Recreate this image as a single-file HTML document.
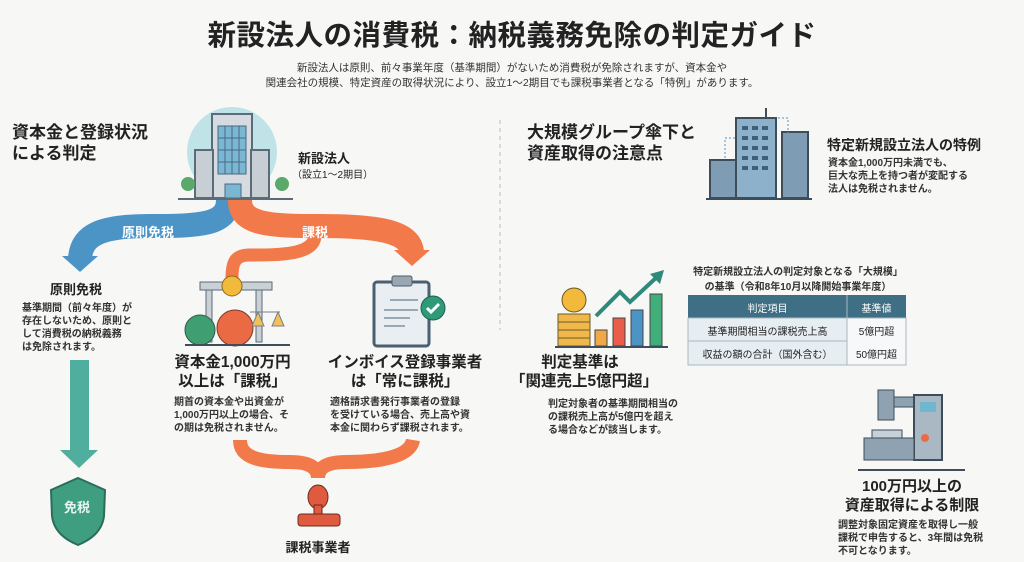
<!DOCTYPE html>
<html><head><meta charset="utf-8"><style>
body{margin:0;width:1024px;height:562px;background:#f7f7f6;font-family:"Liberation Sans","Noto Sans CJK JP",sans-serif;color:#222;position:relative;overflow:hidden}
.a{position:absolute;white-space:nowrap}
.b{font-weight:bold}
.s{font-size:10px;line-height:13px;font-weight:bold;color:#333}
.c{text-align:center}
</style></head><body>
<div class="a b c" style="left:0;width:1024px;top:13px;font-size:28.5px;letter-spacing:0.5px">新設法人の消費税：納税義務免除の判定ガイド</div>
<div class="a c" style="left:0;width:1024px;top:61px;font-size:10.5px;line-height:15px;color:#333">新設法人は原則、前々事業年度（基準期間）がないため消費税が免除されますが、資本金や<br>関連会社の規模、特定資産の取得状況により、設立1〜2期目でも課税事業者となる「特例」があります。</div>

<svg class="a" style="left:0;top:0" width="1024" height="562">
<line x1="500" y1="120" x2="500" y2="330" stroke="#bbb" stroke-dasharray="4,4"/>
<circle cx="232" cy="152" r="45" fill="#bfe3e6"/>
<rect x="212" y="114" width="40" height="84" fill="#d5dbe0" stroke="#5b6b78" stroke-width="2"/>
<rect x="218" y="126" width="28" height="48" fill="#7ab7d3" stroke="#4a6a80"/>
<g stroke="#4a6a80"><line x1="225" y1="126" x2="225" y2="174"/><line x1="232" y1="126" x2="232" y2="174"/><line x1="239" y1="126" x2="239" y2="174"/><line x1="218" y1="138" x2="246" y2="138"/><line x1="218" y1="150" x2="246" y2="150"/><line x1="218" y1="162" x2="246" y2="162"/></g>
<rect x="195" y="150" width="18" height="48" fill="#c7ced4" stroke="#5b6b78" stroke-width="2"/>
<rect x="251" y="150" width="18" height="48" fill="#c7ced4" stroke="#5b6b78" stroke-width="2"/>
<rect x="225" y="184" width="16" height="14" fill="#7ab7d3" stroke="#4a6a80"/>
<circle cx="188" cy="184" r="7" fill="#5aa86a"/><circle cx="282" cy="184" r="7" fill="#5aa86a"/>
<line x1="178" y1="199" x2="293" y2="199" stroke="#5b6b78" stroke-width="2"/>
<path d="M228 200 C228 225 200 226 150 226 C100 226 82 235 80 258" stroke="#4d94c6" stroke-width="24" fill="none"/>
<polygon points="62,256 98,256 80,272" fill="#4d94c6"/>
<path d="M240 200 C240 225 270 226 320 226 C380 226 410 232 412 252" stroke="#f27a4a" stroke-width="24" fill="none"/>
<polygon points="394,250 430,250 412,266" fill="#f27a4a"/>
<path d="M315 235 C315 255 280 255 250 255 C235 255 232 262 232 278" stroke="#f27a4a" stroke-width="13" fill="none"/>
<rect x="200" y="282" width="72" height="8" fill="#c9d0d6" stroke="#5b6b78"/>
<rect x="206" y="290" width="6" height="52" fill="#c9d0d6" stroke="#5b6b78"/>
<rect x="256" y="290" width="6" height="52" fill="#c9d0d6" stroke="#5b6b78"/>
<circle cx="232" cy="286" r="10" fill="#f3b93a" stroke="#8a6a20"/>
<ellipse cx="200" cy="330" rx="15" ry="15" fill="#3f9e72" stroke="#2d5e48"/>
<ellipse cx="235" cy="328" rx="18" ry="18" fill="#ea6a44" stroke="#7d3a28"/>
<path d="M250 312 h30 M258 312 l-6 14 h12 z M278 312 l-6 14 h12 z" stroke="#7a7f86" fill="#f2c05a"/>
<line x1="185" y1="345" x2="290" y2="345" stroke="#3e4d5a" stroke-width="2"/>
<rect x="374" y="282" width="55" height="64" rx="3" fill="#e9eef2" stroke="#4b5f70" stroke-width="3"/>
<rect x="392" y="276" width="20" height="10" rx="2" fill="#9aa6b0" stroke="#4b5f70"/>
<g stroke="#9aa9b6" stroke-width="2"><line x1="390" y1="300" x2="418" y2="300"/><line x1="384" y1="310" x2="418" y2="310"/><line x1="384" y1="318" x2="410" y2="318"/><line x1="384" y1="326" x2="405" y2="326"/></g>
<circle cx="433" cy="308" r="12" fill="#2e9a78" stroke="#1f5f4e"/>
<path d="M427 308 l4 4 l8 -8" stroke="#fff" stroke-width="3" fill="none"/>
<path d="M240 440 C240 458 260 462 290 462 C310 462 318 468 318 478 C318 468 326 462 346 462 C376 462 410 458 413 440" stroke="#f27a4a" stroke-width="14" fill="none"/>
<ellipse cx="318" cy="497" rx="10" ry="12" fill="#e05a40" stroke="#6a2b1f"/>
<rect x="314" y="505" width="8" height="10" fill="#e05a40" stroke="#6a2b1f"/>
<rect x="298" y="514" width="42" height="12" rx="3" fill="#e05a40" stroke="#6a2b1f"/>
<rect x="70" y="360" width="19" height="92" fill="#4fae9d"/>
<polygon points="60,450 98,450 79,468" fill="#4fae9d"/>
<path d="M78 478 L105 490 L104 516 C102 532 90 540 78 545 C66 540 54 532 52 516 L51 490 Z" fill="#3f9e80" stroke="#2a6e5a" stroke-width="2"/>
<rect x="710" y="160" width="28" height="38" fill="#7e9db5" stroke="#3e4d5a" stroke-width="2"/>
<rect x="736" y="118" width="40" height="80" fill="#8db1cb" stroke="#3e4d5a" stroke-width="2"/>
<rect x="782" y="132" width="26" height="66" fill="#7e9db5" stroke="#3e4d5a" stroke-width="2"/>
<g fill="#3e5f7a"><rect x="742" y="126" width="6" height="4"/><rect x="752" y="126" width="6" height="4"/><rect x="762" y="126" width="6" height="4"/><rect x="742" y="136" width="6" height="4"/><rect x="752" y="136" width="6" height="4"/><rect x="762" y="136" width="6" height="4"/><rect x="742" y="146" width="6" height="4"/><rect x="752" y="146" width="6" height="4"/><rect x="762" y="146" width="6" height="4"/><rect x="742" y="156" width="6" height="4"/><rect x="752" y="156" width="6" height="4"/><rect x="762" y="156" width="6" height="4"/><rect x="742" y="166" width="6" height="4"/><rect x="752" y="166" width="6" height="4"/><rect x="762" y="166" width="6" height="4"/></g>
<line x1="766" y1="108" x2="766" y2="118" stroke="#3e4d5a" stroke-width="2"/>
<path d="M725 158 v-20 h12 M778 118 h10 v15" stroke="#4d94c6" stroke-dasharray="2,2" fill="none"/>
<line x1="706" y1="199" x2="812" y2="199" stroke="#3e4d5a" stroke-width="2"/>
<g stroke="#6b5a2a"><rect x="558" y="314" width="32" height="8" fill="#f0b84a"/><rect x="558" y="322" width="32" height="8" fill="#f0b84a"/><rect x="558" y="330" width="32" height="8" fill="#f0b84a"/><rect x="558" y="338" width="32" height="8" fill="#f0b84a"/></g>
<circle cx="574" cy="300" r="12" fill="#f3b93a" stroke="#6b5a2a"/>
<rect x="595" y="330" width="12" height="16" fill="#f0a848" stroke="#444"/>
<rect x="613" y="318" width="12" height="28" fill="#ea5d4a" stroke="#444"/>
<rect x="631" y="310" width="12" height="36" fill="#4d94c6" stroke="#444"/>
<rect x="650" y="294" width="12" height="52" fill="#3fae7a" stroke="#444"/>
<path d="M596 316 L620 292 L630 302 L658 276" stroke="#2e8a7a" stroke-width="4" fill="none"/>
<polygon points="650,274 664,270 660,284" fill="#2e8a7a"/>
<line x1="555" y1="347" x2="668" y2="347" stroke="#3e4d5a" stroke-width="2"/>
<rect x="688" y="295" width="218" height="23" fill="#3f6f84"/>
<rect x="688" y="318" width="218" height="47" fill="#e6eef2" stroke="#aab8c0"/>
<line x1="688" y1="341" x2="906" y2="341" stroke="#aab8c0"/>
<line x1="847" y1="295" x2="847" y2="365" stroke="#aab8c0"/>
<rect x="847" y="318" width="59" height="47" fill="#f6f8f9" stroke="#aab8c0"/>
<rect x="878" y="390" width="16" height="30" fill="#8fa2b2" stroke="#3e4d5a"/>
<rect x="894" y="397" width="20" height="10" fill="#8fa2b2" stroke="#3e4d5a"/>
<rect x="914" y="395" width="28" height="65" fill="#aab8c4" stroke="#3e4d5a" stroke-width="2"/>
<rect x="920" y="402" width="16" height="10" fill="#6fb6d0"/>
<circle cx="925" cy="438" r="4" fill="#ea6a44"/>
<rect x="864" y="438" width="50" height="22" fill="#8fa2b2" stroke="#3e4d5a"/>
<rect x="872" y="430" width="30" height="8" fill="#c6d0d8" stroke="#3e4d5a"/>
<line x1="858" y1="470" x2="965" y2="470" stroke="#3e4d5a" stroke-width="2"/>
</svg>

<div class="a b" style="left:12px;top:122px;font-size:17px;line-height:21px">資本金と登録状況<br>による判定</div>
<div class="a b" style="left:298px;top:148px;font-size:13px">新設法人</div>
<div class="a" style="left:292px;top:166px;font-size:10px">（設立1〜2期目）</div>
<div class="a b" style="left:122px;top:222px;font-size:13px;color:#fff">原則免税</div>
<div class="a b" style="left:302px;top:222px;font-size:13px;color:#fff">課税</div>
<div class="a b" style="left:50px;top:279px;font-size:13px">原則免税</div>
<div class="a s" style="left:22px;top:302px;font-size:10px">基準期間（前々年度）が<br>存在しないため、原則と<br>して消費税の納税義務<br>は免除されます。</div>
<div class="a b" style="left:64px;top:497px;font-size:13px;color:#e8f5ef">免税</div>
<div class="a b c" style="left:160px;width:145px;top:353px;font-size:15.5px;line-height:19px">資本金1,000万円<br>以上は「課税」</div>
<div class="a s" style="left:174px;top:396px">期首の資本金や出資金が<br>1,000万円以上の場合、そ<br>の期は免税されません。</div>
<div class="a b c" style="left:325px;width:160px;top:353px;font-size:15.5px;line-height:19px">インボイス登録事業者<br>は「常に課税」</div>
<div class="a s" style="left:330px;top:396px">適格請求書発行事業者の登録<br>を受けている場合、売上高や資<br>本金に関わらず課税されます。</div>
<div class="a b c" style="left:260px;width:116px;top:537px;font-size:13px">課税事業者</div>

<div class="a b" style="left:527px;top:122px;font-size:17px;line-height:21px">大規模グループ傘下と<br>資産取得の注意点</div>
<div class="a b" style="left:827px;top:135px;font-size:14px">特定新規設立法人の特例</div>
<div class="a s" style="left:828px;top:157px">資本金1,000万円未満でも、<br>巨大な売上を持つ者が変配する<br>法人は免税されません。</div>
<div class="a b c" style="left:680px;width:236px;top:265px;font-size:10px;line-height:15px;color:#333">特定新規設立法人の判定対象となる「大規模」<br>の基準（令和8年10月以降開始事業年度）</div>
<div class="a c" style="left:688px;width:159px;top:300px;font-size:10px;color:#fff">判定項目</div>
<div class="a c" style="left:847px;width:59px;top:300px;font-size:10px;color:#fff">基準値</div>
<div class="a c" style="left:688px;width:159px;top:323px;font-size:10px">基準期間相当の課税売上高</div>
<div class="a c" style="left:847px;width:59px;top:323px;font-size:10px">5億円超</div>
<div class="a c" style="left:688px;width:159px;top:346px;font-size:10px">収益の額の合計（国外含む）</div>
<div class="a c" style="left:847px;width:59px;top:346px;font-size:10px">50億円超</div>
<div class="a b c" style="left:510px;width:140px;top:353px;font-size:15.5px;line-height:19px">判定基準は<br>「関連売上5億円超」</div>
<div class="a s" style="left:548px;top:398px">判定対象者の基準期間相当の<br>の課税売上高が5億円を超え<br>る場合などが該当します。</div>
<div class="a b c" style="left:830px;width:164px;top:477px;font-size:15px;line-height:19px">100万円以上の<br>資産取得による制限</div>
<div class="a s" style="left:838px;top:519px">調整対象固定資産を取得し一般<br>課税で申告すると、3年間は免税<br>不可となります。</div>
</body></html>
